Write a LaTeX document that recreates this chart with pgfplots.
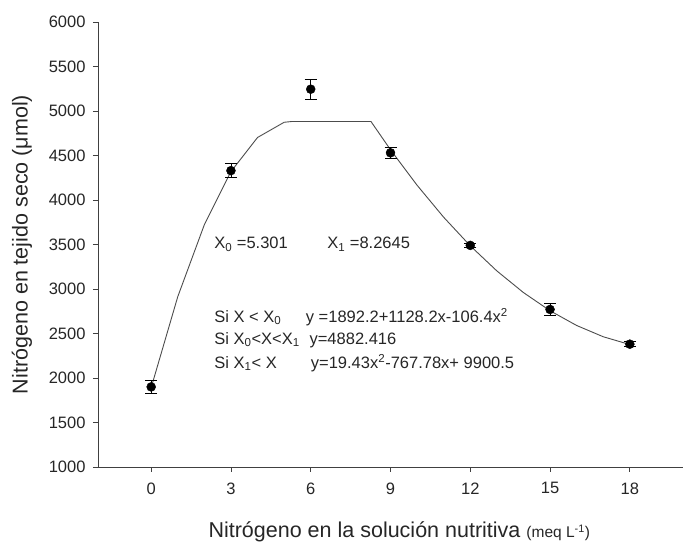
\documentclass[border=0pt]{standalone}
\usepackage{fontspec}
\setmainfont{Liberation Sans}
\usepackage{pgfplots}
\pgfplotsset{compat=1.18}

% mean +- error
\pgfplotstableread{
x   y     err
0   1900  75
3   4330  80
6   5245  110
9   4530  60
12  3490  25
15  2770  65
18  2380  30
}\measured

% fitted piecewise model, evaluated at the plotted nodes
\pgfplotstableread{
x       y
0       1892.2
1       2914.0
2       3723.0
3       4319.2
4       4702.6
5       4873.2
5.301   4882.4
8.2645  4882.4
9       4564.3
10      4165.7
11      3806.0
12      3485.1
13      3203.0
14      2959.9
15      2755.6
16      2590.1
17      2463.5
18      2375.8
}\fitted

\begin{document}
\begin{tikzpicture}
\path[use as bounding box] (-98pt,-78pt) rectangle (592pt,467pt);
\begin{axis}[
  at={(0,0)}, anchor=south west,
  scale only axis, width=585pt, height=445pt,
  xmin=-2, xmax=20, ymin=1000, ymax=6000,
  xtick={0,3,...,18}, ytick={1000,1500,...,6000},
  axis x line*=bottom, axis y line*=left,
  axis line style={black!75, line width=0.8pt},
  tick style={black!75, line width=0.8pt},
  tick align=outside, major tick length=5pt,
  ticklabel style={font=\fontsize{16.5}{18}\selectfont, black!85},
  yticklabel style={xshift=-4pt},
  xticklabel style={yshift=-7pt},
  /pgf/number format/assume math mode=true,
  /pgf/number format/1000 sep={},
  xlabel={Nitrógeno en la solución nutritiva {\fontsize{15.5}{17}\selectfont(meq L\textsuperscript{-1})}},
  ylabel={Nitrógeno en tejido seco (μmol)},
  label style={font=\fontsize{21.5}{24}\selectfont, black!85},
  xlabel style={at={(axis description cs:0.515,-0.146)}, anchor=center},
  ylabel style={at={(axis description cs:-0.13,0.5)}, anchor=center},
  clip=false,
]
\addplot[black!70, line width=0.9pt] table {\fitted};
\addplot[only marks, mark=*, mark size=4.5pt, black,
  error bars/.cd, y dir=both, y explicit,
  error bar style={black, line width=0.8pt},
  error mark options={rotate=90, mark size=6pt, line width=0.8pt, black}]
  table[x=x, y=y, y error=err] {\measured};

\begin{scope}[every node/.style={anchor=base west, inner sep=0pt, font=\fontsize{16.5}{18}\selectfont, black!85}]
\node at (axis cs:2.37,3450) {X\textsubscript{0} =5.301};
\node at (axis cs:6.62,3450) {X\textsubscript{1} =8.2645};
\node at (axis cs:2.37,2626) {Si X {\textless} X\textsubscript{0}};
\node at (axis cs:5.81,2626) {y =1892.2+1128.2x-106.4x\textsuperscript{2}};
\node at (axis cs:2.37,2379) {Si X\textsubscript{0}{\textless}X{\textless}X\textsubscript{1}};
\node at (axis cs:5.95,2379) {y=4882.416};
\node at (axis cs:2.37,2109) {Si X\textsubscript{1}{\textless} X};
\node at (axis cs:6.0,2109) {y=19.43x\textsuperscript{2}-767.78x+ 9900.5};
\end{scope}
\end{axis}
\end{tikzpicture}
\end{document}
